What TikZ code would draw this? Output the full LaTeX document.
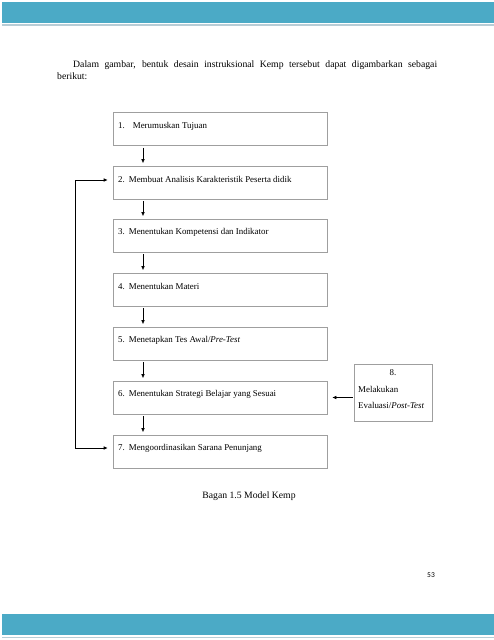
\documentclass[tikz,border=0pt]{standalone}
\usepackage{fontspec}
\setmainfont{Liberation Serif}
\newfontfamily\pagefont{Carlito}
\usetikzlibrary{arrows.meta}
\definecolor{barblue}{HTML}{4BAAC6}
\definecolor{barline}{HTML}{B8CDD6}
\begin{document}
\begin{tikzpicture}[x=1pt,y=-1pt,
  box/.style={draw=gray!75,line width=0.6pt,minimum width=214pt,minimum height=33pt,inner sep=0pt},
  boxtext/.style={anchor=west,inner sep=0pt,font=\fontsize{8.9}{10}\selectfont},
  arr/.style={line width=0.6pt,-{Latex[length=4pt,width=3.5pt]}},
  txt/.style={inner sep=0pt,font=\fontsize{9.7}{12}\selectfont}]
\useasboundingbox (0,0) rectangle (494,640);
% top and bottom bars
\fill[barblue] (2,2) rectangle (494,23);
\draw[barline,line width=1.2pt] (2,25) -- (494,25);
\fill[barblue] (2,614) rectangle (494,635);
\draw[barline,line width=1.2pt] (2,637.5) -- (494,637.5);
% paragraph
\node[txt,anchor=north west,text width=380pt,align=justify] (para) at (57,61)
  {\hspace*{16pt}Dalam gambar, bentuk desain instruksional Kemp tersebut dapat digambarkan sebagai\linebreak berikut:};
% boxes
\node[box] (b1) at (220,129) {};
\node[box] (b2) at (220,182.5) {};
\node[box] (b3) at (220,235.5) {};
\node[box] (b4) at (220,289.5) {};
\node[box] (b5) at (220,343.5) {};
\node[box] (b6) at (220,397.5) {};
\node[box] (b7) at (220,451.5) {};
\node[box,minimum width=78pt,minimum height=57pt] (b8) at (393,393) {};
% box texts
\node[boxtext] (t1) at (118,126) {1.\hspace{8pt}Merumuskan Tujuan};
\node[boxtext] (t2) at (118,179) {2.\hspace{4pt}Membuat Analisis Karakteristik Peserta didik};
\node[boxtext] (t3) at (118,232) {3.\hspace{4pt}Menentukan Kompetensi dan Indikator};
\node[boxtext] (t4) at (118,286) {4.\hspace{4pt}Menentukan Materi};
\node[boxtext] (t5) at (118,340) {5.\hspace{4pt}Menetapkan Tes Awal/\textit{Pre-Test}};
\node[boxtext] (t6) at (118,394) {6.\hspace{4pt}Menentukan Strategi Belajar yang Sesuai};
\node[boxtext] (t7) at (118,448) {7.\hspace{4pt}Mengoordinasikan Sarana Penunjang};
\node[boxtext,anchor=center] (t8a) at (393,373) {8.};
\node[boxtext] (t8b) at (358,389) {Melakukan};
\node[boxtext] (t8c) at (358,405) {Evaluasi/\textit{Post-Test}};
% down arrows
\foreach \a/\b in {b1/b2,b2/b3,b3/b4,b4/b5,b5/b6,b6/b7}{
  \draw[arr,shorten <=2pt,shorten >=2.5pt] ([xshift=-77pt]\a.south) -- ([xshift=-77pt]\b.north);
}
% feedback loop
\draw[line width=0.6pt,{Latex[length=4pt,width=3.5pt]}-{Latex[length=4pt,width=3.5pt]},shorten <=5pt,shorten >=5pt]
  ([yshift=2.5pt]b2.west) -- ++(-37,0) |- ([yshift=3.5pt]b7.west);
% arrow from box 8
\draw[arr,shorten <=1pt,shorten >=5pt] (b8.west |- b6.east) -- (b6.east);
% caption and page number
\node[txt] (cap) at (249,496) {Bagan 1.5 Model Kemp};
\node[inner sep=0pt,font=\pagefont\fontsize{7.5}{9}\selectfont] (pg) at (431,575) {53};
\end{tikzpicture}
\end{document}
